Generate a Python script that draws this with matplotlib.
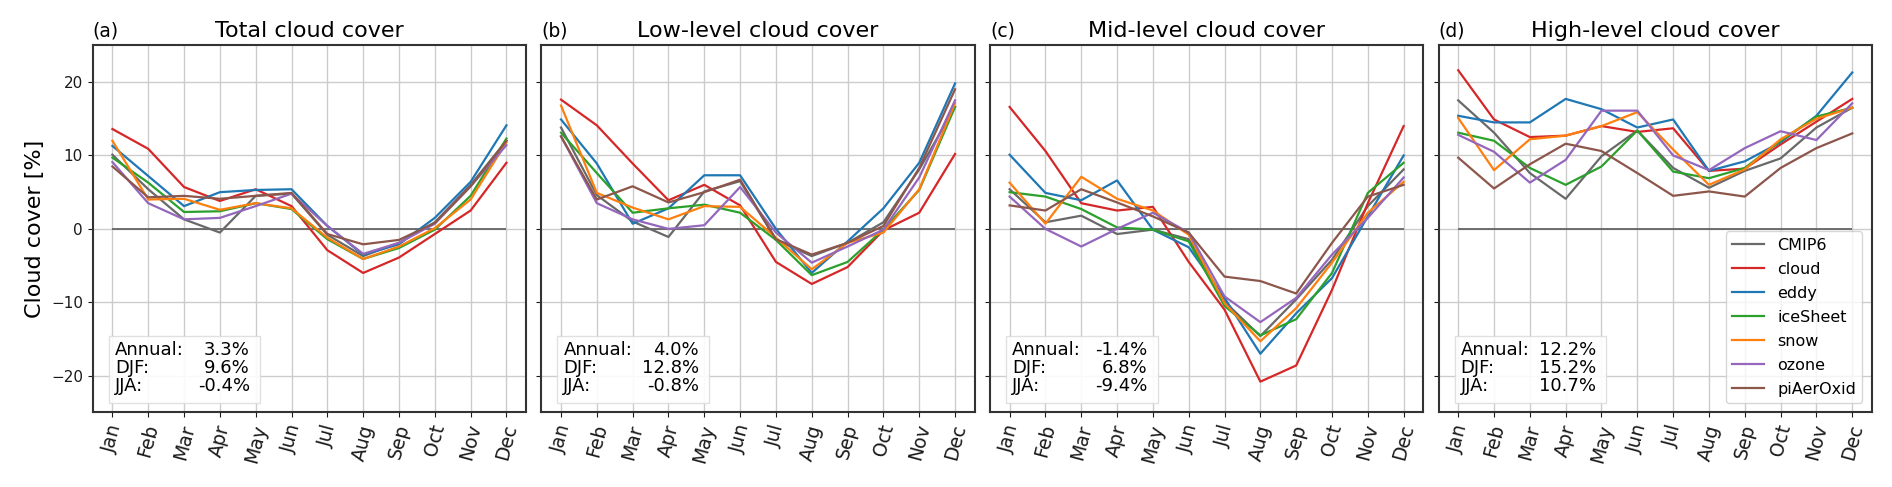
import matplotlib
matplotlib.use("Agg")
import matplotlib.pyplot as plt
from matplotlib.patches import Rectangle
import numpy as np

months = ["Jan", "Feb", "Mar", "Apr", "May", "Jun", "Jul", "Aug", "Sep", "Oct", "Nov", "Dec"]
series_names = ["CMIP6", "cloud", "eddy", "iceSheet", "snow", "ozone", "piAerOxid"]
series_colors = ["dimgray", "tab:red", "tab:blue", "tab:green", "tab:orange", "tab:purple", "tab:brown"]
panel_letters = ["(a)", "(b)", "(c)", "(d)"]
panel_titles = ["Total cloud cover", "Low-level cloud cover", "Mid-level cloud cover", "High-level cloud cover"]
stat_labels = ["Annual:", "DJF:", "JJA:"]

# statistics per panel: Annual, DJF, JJA
stats_total = ["3.3%", "9.6%", "-0.4%"]
stats_low = ["4.0%", "12.8%", "-0.8%"]
stats_mid = ["-1.4%", "6.8%", "-9.4%"]
stats_high = ["12.2%", "15.2%", "10.7%"]

# (a) Total cloud cover
total_CMIP6 = [10.1, 5.4, 1.3, -0.5, 4.5, 4.8, -0.8, -3.7, -1.9, 0.9, 6.0, 12.0]
total_cloud = [13.6, 10.9, 5.7, 3.8, 5.4, 3.1, -2.9, -6.0, -3.9, -0.7, 2.5, 9.0]
total_eddy = [11.3, 7.2, 3.1, 5.0, 5.3, 5.4, 0.4, -3.5, -2.1, 1.5, 6.4, 14.1]
total_iceSheet = [9.7, 6.3, 2.3, 2.4, 3.5, 2.7, -1.4, -4.1, -2.6, -0.1, 4.5, 12.3]
total_snow = [12.0, 4.0, 4.1, 2.6, 3.5, 2.8, -1.2, -4.1, -2.4, 0.1, 4.0, 11.8]
total_ozone = [9.1, 3.5, 1.3, 1.5, 3.1, 4.8, 0.4, -3.4, -1.9, 0.7, 5.8, 11.4]
total_piAerOxid = [8.5, 4.3, 4.5, 4.1, 4.5, 4.9, -0.7, -2.1, -1.5, 0.8, 5.8, 12.0]

# (b) Low-level cloud cover
low_CMIP6 = [13.8, 4.6, 1.0, -1.1, 5.1, 6.5, -1.5, -3.7, -1.9, 0.9, 8.1, 16.6]
low_cloud = [17.6, 14.1, 8.9, 3.9, 6.0, 3.2, -4.5, -7.5, -5.2, -0.2, 2.2, 10.2]
low_eddy = [14.9, 8.9, 0.7, 2.8, 7.3, 7.3, 0.0, -6.0, -1.7, 2.8, 9.0, 19.8]
low_iceSheet = [13.1, 7.6, 2.2, 2.8, 3.3, 2.2, -1.5, -6.3, -4.5, -0.1, 5.3, 16.6]
low_snow = [16.8, 4.9, 2.9, 1.3, 3.1, 3.0, -1.2, -5.5, -1.9, -0.5, 5.4, 17.1]
low_ozone = [12.6, 3.5, 1.3, 0.0, 0.5, 5.7, -0.5, -4.6, -2.4, -0.1, 7.0, 17.5]
low_piAerOxid = [12.6, 4.0, 5.8, 3.6, 5.0, 6.7, -1.4, -3.5, -1.9, 0.4, 8.3, 19.0]

# (c) Mid-level cloud cover
mid_CMIP6 = [5.4, 0.9, 1.8, -0.7, -0.1, -1.4, -9.9, -14.6, -9.6, -4.2, 3.1, 8.1]
mid_cloud = [16.6, 10.6, 3.5, 2.5, 3.0, -4.5, -11.0, -20.8, -18.6, -8.3, 3.5, 14.0]
mid_eddy = [10.1, 4.9, 3.9, 6.6, -0.1, -2.5, -9.4, -17.0, -11.5, -6.7, 1.7, 10.0]
mid_iceSheet = [5.0, 4.4, 2.7, 0.2, -0.1, -1.7, -10.5, -14.5, -12.3, -6.0, 4.9, 9.0]
mid_snow = [6.3, 0.7, 7.1, 4.1, 2.5, -0.8, -10.1, -15.3, -10.8, -4.6, 2.2, 6.4]
mid_ozone = [4.4, 0.0, -2.4, 0.0, 2.2, -0.5, -9.2, -12.7, -9.4, -3.5, 1.5, 7.0]
mid_piAerOxid = [3.2, 2.5, 5.4, 3.6, 1.7, -0.5, -6.5, -7.1, -8.8, -1.9, 4.4, 6.0]

# (d) High-level cloud cover
high_CMIP6 = [17.5, 13.1, 7.6, 4.1, 9.9, 13.4, 8.3, 5.6, 7.9, 9.6, 13.8, 16.5]
high_cloud = [21.6, 14.9, 12.5, 12.7, 14.0, 13.2, 13.7, 7.9, 8.2, 11.5, 14.6, 17.7]
high_eddy = [15.4, 14.5, 14.5, 17.7, 16.3, 13.8, 14.9, 7.9, 9.2, 11.8, 15.4, 21.3]
high_iceSheet = [13.1, 12.0, 8.3, 6.0, 8.5, 13.4, 7.8, 6.9, 8.3, 12.0, 15.3, 16.5]
high_snow = [15.1, 8.0, 12.2, 12.7, 14.0, 15.9, 10.8, 6.0, 8.1, 12.2, 15.0, 16.5]
high_ozone = [12.8, 10.5, 6.3, 9.4, 16.1, 16.1, 10.0, 8.0, 11.0, 13.3, 12.1, 17.1]
high_piAerOxid = [9.7, 5.5, 8.8, 11.6, 10.6, 7.6, 4.5, 5.1, 4.4, 8.3, 11.0, 13.0]

panels = [
    ([total_CMIP6, total_cloud, total_eddy, total_iceSheet, total_snow, total_ozone, total_piAerOxid], stats_total),
    ([low_CMIP6, low_cloud, low_eddy, low_iceSheet, low_snow, low_ozone, low_piAerOxid], stats_low),
    ([mid_CMIP6, mid_cloud, mid_eddy, mid_iceSheet, mid_snow, mid_ozone, mid_piAerOxid], stats_mid),
    ([high_CMIP6, high_cloud, high_eddy, high_iceSheet, high_snow, high_ozone, high_piAerOxid], stats_high),
]

fig, axes = plt.subplots(1, 4, figsize=(18.92, 4.87), dpi=100, sharey=True)
fig.subplots_adjust(left=0.049, right=0.9894, top=0.907, bottom=0.153, wspace=0.035)

x = np.arange(len(months))
for i, ax in enumerate(axes):
    series, stats = panels[i]
    ax.grid(True, color="#cccccc", linewidth=1.0, zorder=0)
    ax.set_axisbelow(True)
    ax.hlines(0, x[0], x[-1], color="0.35", linewidth=1.2, zorder=1)
    for vals, name, col in zip(series, series_names, series_colors):
        ax.plot(x, vals, color=col, linewidth=1.6, label=name, zorder=2)
    ax.set_ylim(-25, 25)
    ax.set_yticks([-20, -10, 0, 10, 20])
    ax.set_xticks(x)
    ax.set_xticklabels(months, rotation=75, fontsize=13.5)
    ax.tick_params(axis="y", labelsize=11, colors="0.1")
    ax.tick_params(axis="x", colors="0.1")
    for sp in ax.spines.values():
        sp.set_color("#333333")
        sp.set_linewidth(1.5)
    ax.set_title(panel_titles[i], fontsize=16)
    ax.set_title(panel_letters[i], loc="left", fontsize=13.5)

    # statistics box
    ax.add_patch(Rectangle((0.037, 0.025), 0.35, 0.184, transform=ax.transAxes,
                           facecolor="white", edgecolor="#dddddd", linewidth=1.0,
                           alpha=0.9, zorder=3))
    ax.text(0.051, 0.196, "\n".join(stat_labels), transform=ax.transAxes,
            ha="left", va="top", fontsize=13, linespacing=1.02, zorder=4)
    ax.text(0.363, 0.196, "\n".join(stats), transform=ax.transAxes,
            ha="right", va="top", fontsize=13, linespacing=1.02, zorder=4)

axes[0].set_ylabel("Cloud cover [%]", fontsize=16)
axes[3].legend(loc="lower right", fontsize=11.5, framealpha=0.8, borderaxespad=0.6,
               labelspacing=0.56)

fig.savefig("out.png", dpi=100)
